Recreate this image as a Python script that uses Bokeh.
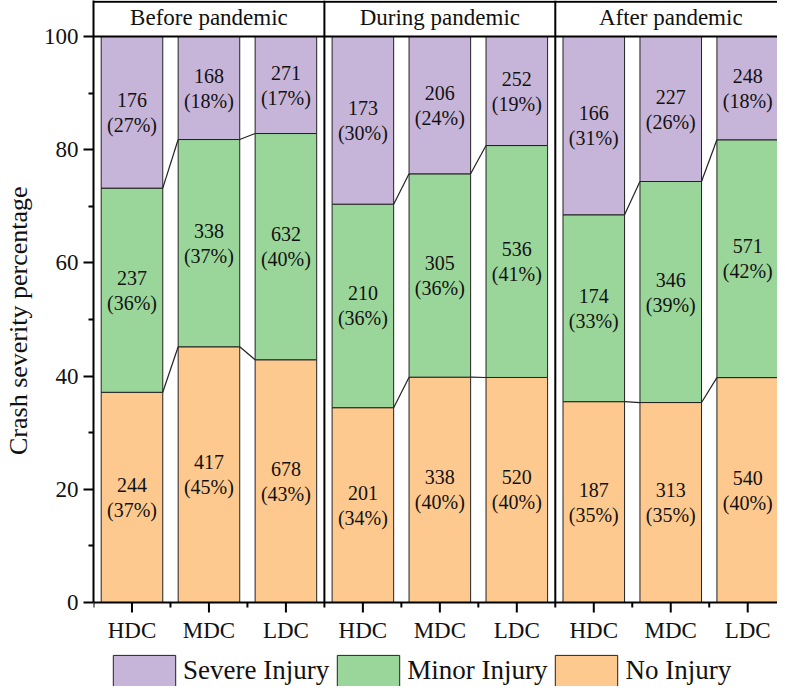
from bokeh.plotting import figure
from bokeh.models import Range1d, FixedTicker, Legend, ColumnDataSource
from bokeh.core.properties import value
from bokeh.embed import file_html
from bokeh.resources import INLINE

# ---- data ----
periods = ["Before pandemic", "During pandemic", "After pandemic"]
groups = ["HDC", "MDC", "LDC"]
no_injury = [244, 417, 678, 201, 338, 520, 187, 313, 540]
minor_injury = [237, 338, 632, 210, 305, 536, 174, 346, 571]
severe_injury = [176, 168, 271, 173, 206, 252, 166, 227, 248]
y_ticks = [0, 20, 40, 60, 80, 100]
y_minor = [10, 30, 50, 70, 90]
x_minor = [0, 1, 2, 3, 4, 5, 6, 7, 8]

COL_SEV = "#C7B4D9"
COL_MIN = "#9AD59A"
COL_NO = "#FEC98F"
EDGE = "#222222"
FONT = "Liberation Serif"

n = len(no_injury)
totals = [a + b + c for a, b, c in zip(no_injury, minor_injury, severe_injury)]
p_no = [a / t * 100 for a, t in zip(no_injury, totals)]
p_min = [a / t * 100 for a, t in zip(minor_injury, totals)]
p_sev = [a / t * 100 for a, t in zip(severe_injury, totals)]
cum1 = p_no
cum2 = [a + b for a, b in zip(p_no, p_min)]

xc = [i + 0.5 for i in range(n)]
bw = 0.8
left = [x - bw / 2 for x in xc]
right = [x + bw / 2 for x in xc]

PX_Y = 5.66          # pixels per percent on the y scale
X_MAX = 8.887
Y_MAX = 106.36
Y_MIN = -84 / PX_Y   # room under the zero line for the category axis + legend

p = figure(width=777, height=686, output_backend="svg", toolbar_location=None,
           x_range=Range1d(0, X_MAX), y_range=Range1d(Y_MIN, Y_MAX),
           x_axis_location=None,
           min_border_left=90, min_border_right=0, min_border_top=0,
           min_border_bottom=0)
p.outline_line_color = None
p.xgrid.visible = False
p.ygrid.visible = False
p.background_fill_color = "white"

r_no = p.quad(left=left, right=right, bottom=[0] * n, top=cum1,
              fill_color=COL_NO, line_color=EDGE, line_width=1)
r_min = p.quad(left=left, right=right, bottom=cum1, top=cum2,
               fill_color=COL_MIN, line_color=EDGE, line_width=1)
r_sev = p.quad(left=left, right=right, bottom=cum2, top=[100] * n,
               fill_color=COL_SEV, line_color=EDGE, line_width=1)

# connecting lines within each panel
x0s, y0s, x1s, y1s = [], [], [], []
for g in range(3):
    for k in range(2):
        i = g * 3 + k
        for cum in (cum1, cum2):
            x0s.append(right[i]); y0s.append(cum[i])
            x1s.append(left[i + 1]); y1s.append(cum[i + 1])
p.segment(x0=x0s, y0=y0s, x1=x1s, y1=y1s, line_color=EDGE, line_width=1.2)

# data labels
for vals, pcts, bot in ((no_injury, p_no, [0] * n), (minor_injury, p_min, cum1),
                        (severe_injury, p_sev, cum2)):
    ym = [b + q / 2 for b, q in zip(bot, pcts)]
    src = ColumnDataSource(dict(x=xc, y=ym,
                                t1=[str(v) for v in vals],
                                t2=["(%d%%)" % round(q) for q in pcts]))
    p.text(x="x", y="y", text="t1", source=src, text_font=value(FONT),
           text_font_size="20px", text_align="center", text_baseline="middle",
           y_offset=-12.5, text_color="#111111")
    p.text(x="x", y="y", text="t2", source=src, text_font=value(FONT),
           text_font_size="20px", text_align="center", text_baseline="middle",
           y_offset=12.5, text_color="#111111")

# header strips and panel frame lines
p.segment(x0=[0, 0], y0=[100, Y_MAX - 0.2], x1=[X_MAX, X_MAX], y1=[100, Y_MAX - 0.2],
          line_color="black", line_width=2)
p.segment(x0=[3, 6], y0=[0, 0], x1=[3, 6], y1=[Y_MAX, Y_MAX],
          line_color="black", line_width=2)
p.text(x=[1.5, 4.5, 7.5], y=[103.3] * 3, text=periods, text_font=value(FONT),
       text_font_size="23px", text_align="center", text_baseline="middle",
       text_color="#111111")

# category axis along the zero line
p.segment(x0=[0], y0=[0], x1=[X_MAX], y1=[0], line_color="black", line_width=2)
p.segment(x0=xc, y0=[0] * n, x1=xc, y1=[-10 / PX_Y] * n,
          line_color="black", line_width=2)
p.segment(x0=x_minor, y0=[0] * len(x_minor), x1=x_minor,
          y1=[-5 / PX_Y] * len(x_minor), line_color="black", line_width=2)
p.text(x=xc, y=[-28 / PX_Y] * n, text=[groups[i % 3] for i in range(n)],
       text_font=value(FONT), text_font_size="23px", text_align="center",
       text_baseline="middle", text_color="#111111")

# y axis
ya = p.yaxis[0]
ya.ticker = FixedTicker(ticks=y_ticks, minor_ticks=y_minor)
ya.bounds = (0, Y_MAX)
ya.axis_label = "\u00a0" * 7 + "Crash severity percentage"
ya.axis_label_text_font = FONT
ya.axis_label_text_font_style = "normal"
ya.axis_label_text_font_size = "26px"
ya.axis_label_text_color = "#111111"
ya.axis_label_standoff = 8
ya.axis_line_width = 2
ya.axis_line_color = "black"
ya.major_tick_line_width = 2
ya.minor_tick_line_width = 2
ya.major_tick_out = 10
ya.major_tick_in = 0
ya.minor_tick_out = 5
ya.minor_tick_in = 0
ya.major_label_text_font = FONT
ya.major_label_text_font_size = "23px"
ya.major_label_text_color = "#111111"
ya.major_label_standoff = 5

legend = Legend(items=[("Severe Injury", [r_sev]), ("Minor Injury", [r_min]),
                       ("No Injury", [r_no])],
                orientation="horizontal", location=(12, -4),
                glyph_width=78, glyph_height=39,
                label_text_font=FONT, label_text_font_size="27px",
                label_text_color="#111111",
                label_standoff=0, spacing=-7, padding=0, margin=0,
                border_line_color=None, background_fill_alpha=0)
p.add_layout(legend)

open("out.html", "w").write(file_html(p, INLINE))
